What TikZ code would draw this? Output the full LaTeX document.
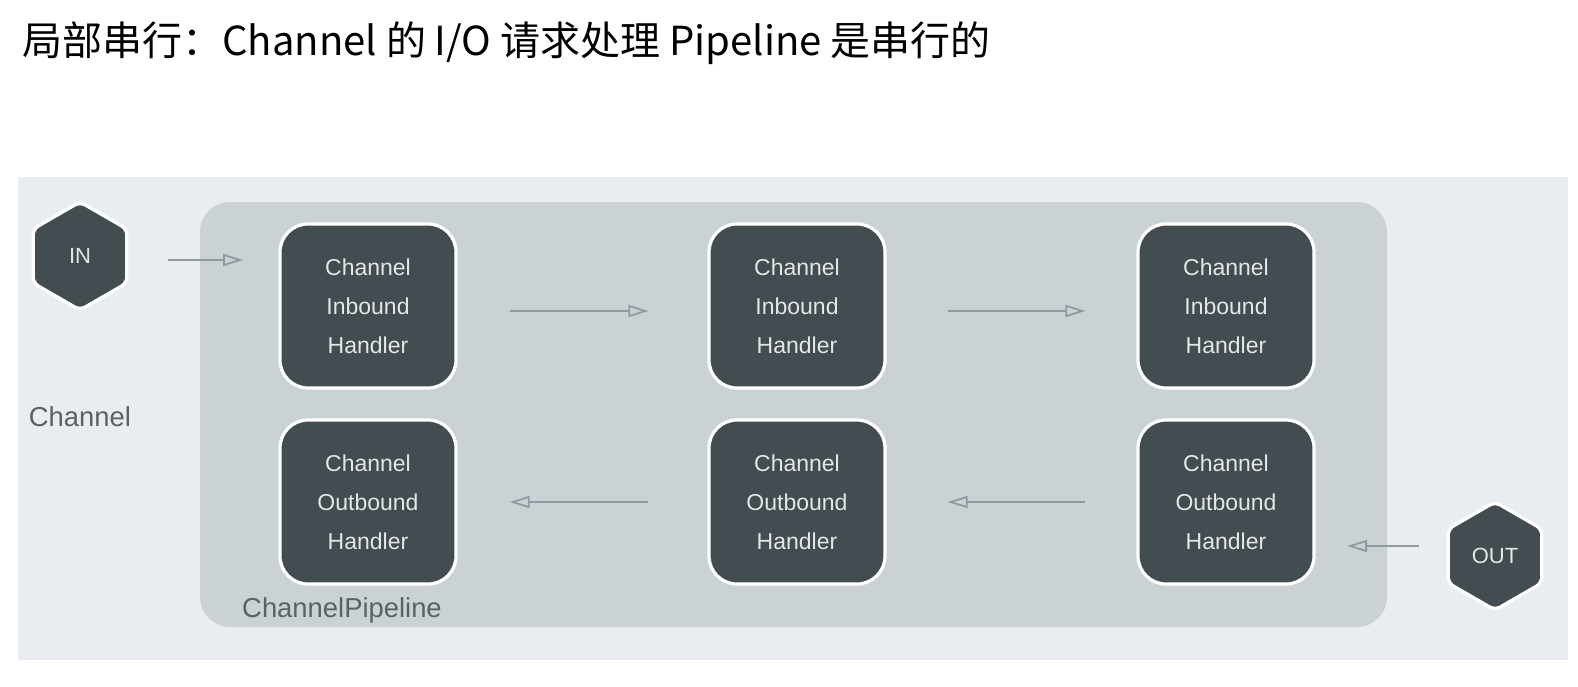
\documentclass[tikz,border=0pt]{standalone}
\usepackage{fontspec}
\setmainfont{Liberation Sans}
\newfontfamily\cjk{Noto Sans CJK SC}
\usetikzlibrary{arrows.meta,shapes.geometric}
\definecolor{bgout}{HTML}{E9ECF0}
\definecolor{pipe}{HTML}{CBD2D5}
\definecolor{dark}{HTML}{434C50}
\definecolor{boxtext}{HTML}{E4E6E7}
\definecolor{arrc}{HTML}{8E9CA2}
\definecolor{lbl}{HTML}{5A6266}
\tikzset{
  handler/.style={draw=white, line width=1.6pt, fill=dark, rounded corners=14pt,
    minimum width=88pt, minimum height=82pt, align=center, text=boxtext,
    font=\fontsize{11.5}{19.5}\selectfont},
  hexnode/.style={regular polygon, regular polygon sides=6, shape border rotate=30,
    draw=white, line width=1.6pt, fill=dark, minimum size=54pt, inner sep=0pt,
    text=boxtext, font=\fontsize{11}{13}\selectfont, rounded corners=3pt},
  arr/.style={draw=arrc, line width=0.9pt, -{Triangle[open, length=10pt, width=6pt]}},
  lbltext/.style={text=lbl, font=\fontsize{13.7}{16}\selectfont, inner sep=0pt}
}
\begin{document}
\begin{tikzpicture}[x=0.5pt,y=-0.5pt]
\useasboundingbox (0,0) rectangle (1578,686);
\fill[white] (0,0) rectangle (1578,686);
\node[anchor=west, inner sep=0pt, font=\cjk\fontsize{20}{24}\selectfont] (title) at (22,43) {局部串行：Channel 的 I/O 请求处理 Pipeline 是串行的};
\fill[bgout] (18,177) rectangle (1568,660);
\fill[pipe, rounded corners=15pt] (200,202) rectangle (1387,627);

\node[hexnode] (in) at (80,256) {IN};
\node[hexnode] (out) at (1495,556) {OUT};

\node[handler] (i1) at (368,306) {Channel\\Inbound\\Handler};
\node[handler] (i2) at (797,306) {Channel\\Inbound\\Handler};
\node[handler] (i3) at (1226,306) {Channel\\Inbound\\Handler};
\node[handler] (o1) at (368,502) {Channel\\Outbound\\Handler};
\node[handler] (o2) at (797,502) {Channel\\Outbound\\Handler};
\node[handler] (o3) at (1226,502) {Channel\\Outbound\\Handler};

\node[lbltext] (chl) at (80,417) {Channel};
\node[lbltext] (pipl) at (342,610) {ChannelPipeline};

\coordinate (inA) at (168,260);
\coordinate (inB) at (243,260);
\draw[arr] (inA) -- (inB);
\draw[arr, shorten <=26pt, shorten >=29.5pt] ([yshift=-2.5pt]i1.east) -- ([yshift=-2.5pt]i2.west);
\draw[arr, shorten <=30.5pt, shorten >=25.5pt] ([yshift=-2.5pt]i2.east) -- ([yshift=-2.5pt]i3.west);
\draw[arr, shorten <=29.5pt, shorten >=26pt] (o2.west) -- (o1.east);
\draw[arr, shorten <=25.5pt, shorten >=30.5pt] (o3.west) -- (o2.east);
\coordinate (outA) at (1419,546);
\coordinate (outB) at (1347,546);
\draw[arr] (outA) -- (outB);
\end{tikzpicture}
\end{document}
